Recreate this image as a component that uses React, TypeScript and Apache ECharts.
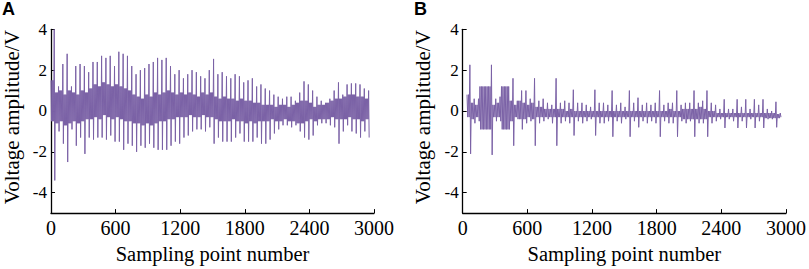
import React, { useEffect, useRef } from "react";
import * as echarts from "echarts";

// ---- Panel A: per 40-sample block (band high, band low, spike high, spike low)
const blockA_start = 0;
const bandHiA = [1.5,0.9,1.0,0.8,1.0,0.9,0.8,1.0,0.9,1.1, 1.3,1.2,1.4,1.3,1.2,1.3,1.2,1.1,1.0,0.8, 0.7,0.6,0.8,0.7,0.9,0.8,0.9,1.0,0.9,0.8, 0.9,0.8,0.9,0.8,0.7,0.9,0.8,0.9,0.7,0.6, 0.7,0.6,0.6,0.5,0.6,0.5,0.5,0.4,0.4,0.3, 0.3,0.3,0.2,0.3,0.3,0.2,0.3,0.4,0.5,0.5, 0.4,0.2,0.3,0.3,0.4,0.5,0.6,0.6,0.7,0.8, 0.8,0.7,0.7,0.6];
const bandLoA = [-0.5,-0.6,-0.5,-0.7,-0.6,-0.5,-0.6,-0.5,-0.4,-0.4, -0.3,-0.4,-0.2,-0.3,-0.4,-0.3,-0.4,-0.5,-0.5,-0.6, -0.6,-0.7,-0.6,-0.7,-0.6,-0.5,-0.5,-0.4,-0.4,-0.3, -0.3,-0.3,-0.2,-0.3,-0.3,-0.2,-0.3,-0.3,-0.4,-0.5, -0.5,-0.5,-0.4,-0.5,-0.5,-0.6,-0.5,-0.6,-0.5,-0.5, -0.5,-0.4,-0.5,-0.5,-0.4,-0.5,-0.5,-0.6,-0.6,-0.5, -0.4,-0.5,-0.4,-0.4,-0.4,-0.3,-0.4,-0.4,-0.4,-0.3, -0.4,-0.4,-0.5,-0.4];
const spikeHiA = [4.0,1.2,2.3,2.8,1.2,2.2,2.3,2.2,1.9,2.4, 2.4,2.7,2.6,2.7,2.2,2.9,2.8,2.7,2.2,1.8, 2.0,2.1,2.3,2.4,2.6,2.5,2.6,2.2,1.8,2.0, 1.6,1.8,2.0,1.9,1.7,1.6,2.0,2.55,1.8,1.9, 1.7,1.6,1.8,1.7,1.4,1.5,1.6,1.2,1.3,1.1, 1.0,0.8,0.7,0.6,0.7,0.7,0.5,0.9,1.45,1.3, 1.0,0.7,0.5,0.4,0.6,1.0,1.4,0.8,1.3,1.35, 1.35,1.3,1.1,1.0];
const spikeLoA = [-3.4,-1.0,-1.6,-2.5,-0.9,-1.7,-1.3,-2.1,-1.3,-1.4, -1.3,-1.3,-1.4,-1.2,-1.5,-1.5,-1.9,-1.6,-1.7,-2.0, -1.7,-1.8,-1.6,-1.8,-1.9,-1.9,-1.9,-1.7,-1.5,-1.6, -1.3,-1.2,-1.0,-0.9,-0.9,-1.0,-0.8,-1.6,-1.3,-1.5, -1.5,-1.5,-1.3,-1.1,-1.5,-1.5,-1.5,-1.3,-1.6,-1.6, -1.4,-1.1,-0.9,-0.7,-0.7,-0.8,-0.7,-1.0,-1.3,-1.4, -1.2,-0.7,-0.6,-0.6,-0.7,-0.8,-1.6,-1.0,-0.7,-1.0, -1.1,-1.3,-1.0,-1.3];

// ---- Panel B: per 40-sample block starting at sample 40
const blockB_start = 40;
const bandHiB = [0.8,0.4,0.3,1.2,1.2,1.2,0.3,0.4,1.2,1.2, 0.5,0.3,0.5,0.4,0.3,0.4,0.2,0.2,0.1,0.1, 0.1,0.1,0.1,0.0,0.1,0.0,0.0,0.0,0.0,0.0, 0.0,0.0,0.0,0.0,0.0,0.0,0.0,0.0,0.0,0.0, 0.0,0.0,0.0,0.0,0.0,0.0,0.0,0.1,0.0,0.0, 0.1,0.1,0.1,0.1,0.2,0.1,0.0,0.0,-0.1,-0.1, -0.1,-0.1,-0.1,-0.1,-0.1,-0.1,-0.1,-0.1,-0.1,-0.1, -0.1,-0.1,-0.15];
const bandLoB = [-0.3,-0.4,-0.3,-0.9,-0.9,-0.9,-0.3,-0.3,-0.9,-0.9, -0.5,-0.3,-0.4,-0.4,-0.3,-0.4,-0.3,-0.3,-0.3,-0.3, -0.3,-0.3,-0.3,-0.3,-0.3,-0.3,-0.3,-0.3,-0.3,-0.3, -0.3,-0.3,-0.3,-0.3,-0.3,-0.3,-0.3,-0.3,-0.3,-0.3, -0.3,-0.3,-0.3,-0.3,-0.3,-0.3,-0.3,-0.3,-0.3,-0.3, -0.4,-0.4,-0.4,-0.4,-0.4,-0.4,-0.3,-0.3,-0.3,-0.3, -0.3,-0.3,-0.3,-0.3,-0.3,-0.3,-0.3,-0.3,-0.3,-0.35, -0.35,-0.35,-0.35];
const spikeHiB = [2.26,0.6,0.6,1.2,1.2,2.26,0.6,0.7,1.2,1.2, 1.6,0.5,1.0,1.0,0.6,1.6,0.5,0.6,0.4,0.3, 1.6,0.4,0.5,0.4,1.04,0.4,0.4,0.3,0.2,1.04, 0.4,0.4,0.3,1.0,0.3,0.4,0.2,1.0,0.4,0.65, 0.3,0.4,0.3,0.4,1.0,0.3,0.4,0.4,1.0,0.3, 0.4,0.4,1.0,0.4,0.5,1.0,0.4,0.3,0.1,0.57, 0.1,0.1,0.57,0.2,0.57,0.1,0.57,0.3,0.57,0.1, 0.0,0.45,-0.1];
const spikeLoB = [-2.1,-0.6,-0.5,-0.9,-0.9,-2.15,-0.5,-0.5,-0.9,-0.9, -1.7,-0.4,-0.9,-0.6,-0.5,-1.7,-0.6,-0.5,-0.4,-0.6, -1.7,-0.6,-0.5,-0.6,-1.2,-0.5,-0.6,-0.5,-0.4,-1.2, -0.6,-0.6,-0.5,-1.26,-0.5,-0.6,-0.4,-1.26,-0.5,-0.8, -0.5,-0.6,-0.5,-0.6,-1.26,-0.5,-0.6,-0.6,-1.26,-0.5, -0.6,-0.5,-1.26,-0.6,-0.6,-1.26,-0.6,-0.5,-0.4,-0.83, -0.4,-0.5,-0.83,-0.5,-0.83,-0.4,-0.83,-0.5,-0.83,-0.4, -0.4,-0.8,-0.3];

const xTicks = [0, 600, 1200, 1800, 2400, 3000];
const yTicks = [-4, -2, 0, 2, 4];
const panelLabels = ["A", "B"];

const BLOCK = 40;

// each block: the block's band high/low values repeated (dense oscillation), then the spike
function buildSeries(start: number, pairs: number, hi: number[], lo: number[], sHi: number[], sLo: number[]) {
  const step = BLOCK / (2 * pairs + 2);
  const out: number[][] = [];
  for (let i = 0; i < hi.length; i++) {
    const x0 = start + i * BLOCK;
    let j = 0;
    for (let p = 0; p < pairs; p++) {
      out.push([x0 + step * j++, hi[i]]);
      out.push([x0 + step * j++, lo[i]]);
    }
    out.push([x0 + step * j++, sHi[i]]);
    out.push([x0 + step * j++, sLo[i]]);
  }
  return out;
}

const SERIF = "Liberation Serif";
const LINE_COLOR = "#7b62a6";

export default function App() {
  const ref = useRef<HTMLDivElement>(null);
  useEffect(() => {
    if (!ref.current) return;
    const chart = echarts.init(ref.current, undefined, { renderer: "svg" });
    const grids = [
      { left: 49, top: 29.3, width: 325, height: 191.4 },
      { left: 462.7, top: 29.3, width: 325, height: 191.4 },
    ];
    const mkX = (gi: number) => ({
      type: "value",
      gridIndex: gi,
      min: 0,
      max: 3000,
      interval: 600,
      axisLine: { onZero: false, lineStyle: { color: "#000", width: 1.3 } },
      axisTick: { inside: true, length: 4, lineStyle: { color: "#000", width: 1 }, customValues: xTicks },
      axisLabel: {
        customValues: xTicks,
        formatter: (v: number) => String(v),
        fontFamily: SERIF,
        fontSize: 20,
        color: "#000",
        margin: 5,
      },
      splitLine: { show: false },
      name: "Sampling point number",
      nameLocation: "middle",
      nameGap: 21,
      nameTextStyle: { fontFamily: SERIF, fontSize: 20.5, color: "#000" },
    });
    const mkY = (gi: number) => ({
      type: "value",
      gridIndex: gi,
      min: -5,
      max: 4,
      axisLine: { onZero: false, lineStyle: { color: "#000", width: 1.3 } },
      axisTick: { inside: true, length: 4, lineStyle: { color: "#000", width: 1 }, customValues: yTicks },
      axisLabel: { customValues: yTicks, fontFamily: SERIF, fontSize: 17, color: "#000", margin: 4 },
      splitLine: { show: false },
      name: "Voltage amplitude/V",
      nameLocation: "middle",
      nameGap: 29,
      nameTextStyle: { fontFamily: SERIF, fontSize: 21, color: "#000", padding: [0, 0, 0, 8] },
    });
    chart.setOption({
      animation: false,
      backgroundColor: "#fff",
      grid: grids,
      xAxis: [mkX(0), mkX(1)],
      yAxis: [mkY(0), mkY(1)],
      graphic: [
        { type: "text", left: 2, top: 0, style: { text: panelLabels[0], font: "bold 18px 'Liberation Sans', Arial, sans-serif", fill: "#000" } },
        { type: "text", left: 414, top: 0, style: { text: panelLabels[1], font: "bold 18px 'Liberation Sans', Arial, sans-serif", fill: "#000" } },
      ],
      series: [
        {
          type: "line",
          xAxisIndex: 0,
          yAxisIndex: 0,
          showSymbol: false,
          data: buildSeries(blockA_start, 3, bandHiA, bandLoA, spikeHiA, spikeLoA),
          lineStyle: { color: LINE_COLOR, width: 1 },
          itemStyle: { color: LINE_COLOR },
        },
        {
          type: "line",
          xAxisIndex: 1,
          yAxisIndex: 1,
          showSymbol: false,
          data: buildSeries(blockB_start, 2, bandHiB, bandLoB, spikeHiB, spikeLoB),
          lineStyle: { color: LINE_COLOR, width: 1 },
          itemStyle: { color: LINE_COLOR },
        },
      ],
    });
    return () => chart.dispose();
  }, []);
  return (
    <div
      ref={ref}
      style={{ position: "absolute", left: 0, top: 0, width: 809, height: 269, background: "#fff" }}
    />
  );
}
